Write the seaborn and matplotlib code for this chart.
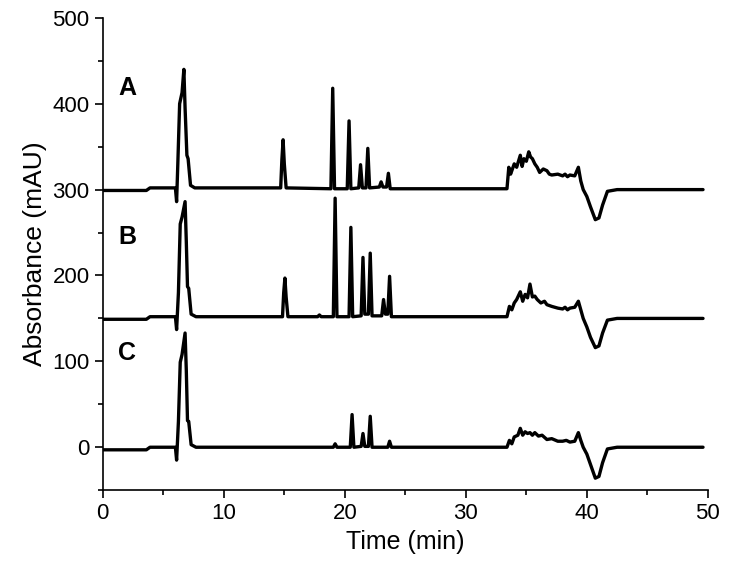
import numpy as np
import pandas as pd
import matplotlib
matplotlib.use('Agg')
import matplotlib.pyplot as plt
from matplotlib.ticker import MultipleLocator
import seaborn as sns

# ============================================
# DATA
# ============================================
time_a = [0, 3.6, 3.9, 6.0, 6.1, 6.2, 6.35, 6.55, 6.7, 6.8, 6.95, 7.05, 7.25, 7.6,
          14.7, 14.8, 14.9, 15.0, 15.15, 18.85, 19.0, 19.15, 20.2, 20.35, 20.5,
          21.15, 21.3, 21.45, 21.75, 21.9, 22.05, 22.85, 23.0, 23.15, 23.45, 23.6, 23.75,
          33.4, 33.55, 33.7, 33.85, 34.0, 34.2, 34.5, 34.65, 34.8, 35.0, 35.2, 35.35,
          35.5, 35.7, 35.9, 36.1, 36.4, 36.7, 36.9, 37.1, 37.6, 38.0, 38.2, 38.4,
          38.6, 39.0, 39.3, 39.5, 39.7, 40.0, 40.3, 40.7, 41.0, 41.3, 41.7, 42.5, 49.6]
abs_a = [299, 299, 302, 302, 286, 330, 400, 413, 440, 395, 340, 336, 305, 302,
         302, 335, 358, 330, 302, 301, 418, 301, 301, 380, 301,
         302, 329, 302, 302, 348, 302, 303, 309, 303, 303, 319, 301,
         301, 326, 318, 324, 330, 326, 340, 327, 336, 333, 344, 338,
         336, 330, 326, 320, 324, 322, 318, 317, 318, 316, 318, 315,
         317, 316, 326, 310, 300, 292, 280, 265, 267, 282, 298, 300, 300]

time_b = [0, 3.6, 3.9, 6.0, 6.1, 6.25, 6.4, 6.55, 6.8, 6.9, 7.0, 7.1, 7.3, 7.7,
          14.85, 14.95, 15.05, 15.15, 15.3, 17.75, 17.9, 18.05, 19.05, 19.2, 19.35,
          20.35, 20.5, 20.65, 21.35, 21.5, 21.65, 21.95, 22.1, 22.25, 23.05, 23.2, 23.35,
          23.55, 23.7, 23.85,
          33.4, 33.6, 33.8, 34.0, 34.2, 34.5, 34.7, 34.9, 35.1, 35.3, 35.5, 35.7,
          35.9, 36.2, 36.5, 36.7, 37.1, 37.6, 38.0, 38.2, 38.4, 38.6, 39.0, 39.3,
          39.5, 39.7, 40.0, 40.3, 40.7, 41.0, 41.3, 41.7, 42.5, 49.6]
abs_b = [149, 149, 152, 152, 137, 180, 260, 268, 286, 240, 187, 185, 155, 152,
         152, 180, 197, 175, 152, 152, 154, 152, 152, 290, 152,
         152, 256, 152, 153, 221, 155, 155, 226, 153, 153, 172, 155,
         155, 199, 152,
         152, 164, 160, 168, 172, 181, 170, 178, 174, 190, 175, 176,
         172, 168, 170, 166, 164, 162, 161, 163, 160, 162, 163, 170,
         160, 150, 140, 128, 116, 118, 133, 148, 150, 150]

time_c = [0, 3.6, 3.9, 6.0, 6.1, 6.25, 6.4, 6.55, 6.8, 6.9, 7.0, 7.1, 7.3, 7.7,
          19.05, 19.2, 19.35, 20.45, 20.6, 20.75, 21.35, 21.5, 21.65, 21.95, 22.1, 22.25,
          23.55, 23.7, 23.85,
          33.4, 33.6, 33.8, 34.0, 34.3, 34.5, 34.7, 34.9, 35.1, 35.3, 35.5, 35.7,
          36.0, 36.3, 36.7, 37.1, 37.6, 38.0, 38.3, 38.6, 39.0, 39.3, 39.5, 39.7,
          40.0, 40.3, 40.7, 41.0, 41.3, 41.7, 42.5, 49.6]
abs_c = [-3, -3, 0, 0, -15, 30, 99, 108, 133, 90, 31, 30, 3, 0,
         0, 4, 0, 0, 38, 0, 1, 16, 1, 1, 36, 0,
         0, 7, 0,
         0, 8, 4, 12, 14, 22, 14, 18, 16, 17, 14, 17,
         13, 14, 9, 10, 7, 7, 8, 6, 7, 17, 8, 0,
         -8, -20, -36, -34, -18, -2, 0, 0]

trace_labels = ['A', 'B', 'C']
label_pos = [(2.0, 418), (2.0, 245), (2.0, 110)]

# ============================================
# LONG-FORM TABLE
# ============================================
frames = []
for name, t, v in zip(trace_labels, [time_a, time_b, time_c], [abs_a, abs_b, abs_c]):
    frames.append(pd.DataFrame({'time': t, 'absorbance': v, 'trace': name}))
df = pd.concat(frames, ignore_index=True)

# ============================================
# PLOT
# ============================================
sns.set_style('ticks')
plt.rcParams['font.family'] = ['Liberation Sans', 'DejaVu Sans']
plt.rcParams['text.color'] = 'black'
plt.rcParams['axes.labelcolor'] = 'black'
plt.rcParams['xtick.color'] = 'black'
plt.rcParams['ytick.color'] = 'black'

fig = plt.figure(figsize=(7.29, 5.76), dpi=100)
ax = fig.add_axes([0.141, 0.149, 0.830, 0.820])

sns.lineplot(data=df, x='time', y='absorbance', units='trace', estimator=None,
             color='black', linewidth=2.4, sort=False, ax=ax)

for name, (x, y) in zip(trace_labels, label_pos):
    ax.text(x, y, name, fontsize=18, fontweight='bold', ha='center', va='center')

ax.set_xlim(0, 50)
ax.set_ylim(-50, 500)
ax.xaxis.set_major_locator(MultipleLocator(10))
ax.xaxis.set_minor_locator(MultipleLocator(5))
ax.yaxis.set_major_locator(MultipleLocator(100))
ax.yaxis.set_minor_locator(MultipleLocator(50))
ax.tick_params(which='major', direction='out', length=6, width=1.2, labelsize=16)
ax.tick_params(which='minor', direction='out', length=3.5, width=1.2)
for side in ['left', 'bottom']:
    ax.spines[side].set_linewidth(1.2)
    ax.spines[side].set_color('black')
sns.despine(ax=ax)

ax.set_xlabel('Time (min)', fontsize=18)
ax.set_ylabel('Absorbance (mAU)', fontsize=19)

fig.savefig('out.png', dpi=100)
